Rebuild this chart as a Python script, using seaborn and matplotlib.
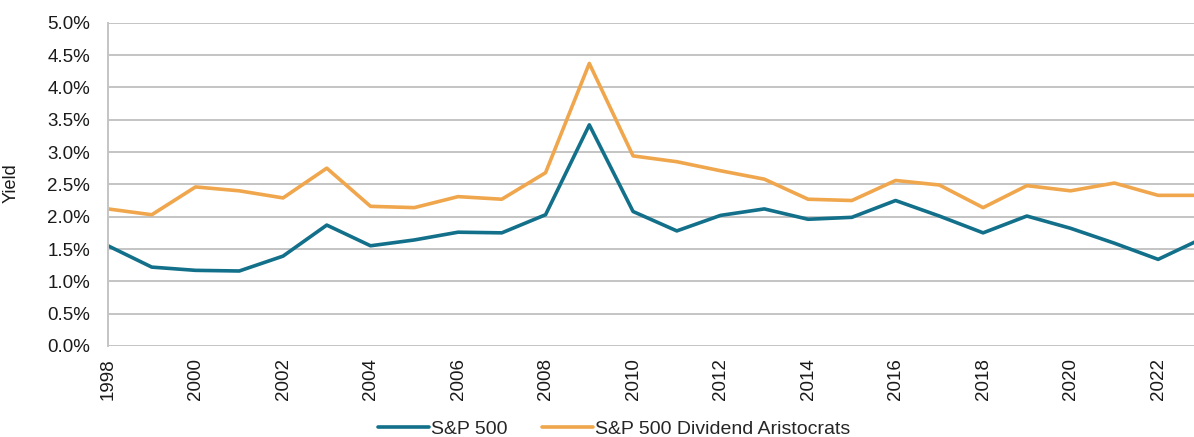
import matplotlib
matplotlib.use("Agg")
import matplotlib.pyplot as plt
import seaborn as sns
import pandas as pd
from matplotlib.ticker import FuncFormatter, MultipleLocator

years = list(range(1998, 2024))
sp500 = [1.55, 1.22, 1.17, 1.16, 1.39, 1.87, 1.55, 1.64, 1.76, 1.75, 2.03, 3.42, 2.08,
         1.78, 2.02, 2.12, 1.96, 1.99, 2.25, 2.01, 1.75, 2.01, 1.82, 1.59, 1.34, 1.66]
aristocrats = [2.12, 2.03, 2.46, 2.40, 2.29, 2.75, 2.16, 2.14, 2.31, 2.27, 2.68, 4.37, 2.94,
               2.85, 2.71, 2.58, 2.27, 2.25, 2.56, 2.49, 2.14, 2.48, 2.40, 2.52, 2.33, 2.33]
series_names = ["S&P 500", "S&P 500 Dividend Aristocrats"]

df = pd.DataFrame({
    "Year": years * 2,
    "Yield": sp500 + aristocrats,
    "Series": [series_names[0]] * len(years) + [series_names[1]] * len(years),
})

sns.set_theme(style="white")
plt.rcParams["font.family"] = ["Liberation Sans", "DejaVu Sans"]

fig = plt.figure(figsize=(11.94, 4.37), dpi=100)
ax = fig.add_axes([108 / 1194, 1 - 346 / 437, 1 - 108 / 1194, (346 - 22.7) / 437])

palette = {series_names[0]: "#13708a", series_names[1]: "#f0a64c"}
sns.lineplot(data=df, x="Year", y="Yield", hue="Series", palette=palette,
             linewidth=2.6, ax=ax, legend=False)

ax.set_xlim(1998, 2022.82)
ax.set_ylim(0, 5.0)
ax.yaxis.set_major_locator(MultipleLocator(0.5))
ax.yaxis.set_major_formatter(FuncFormatter(lambda v, p: f"{v:.1f}%"))
ax.set_xticks(list(range(1998, 2023, 2)))
ax.set_xticklabels([str(y) for y in range(1998, 2023, 2)], rotation=90)
ax.tick_params(axis="both", labelsize=13.5, length=0, colors="#1a1a1a")
ax.tick_params(axis="y", pad=13)
ax.tick_params(axis="x", pad=9)
ax.grid(axis="y", color="#c4c4c4", linewidth=1.4)
ax.set_axisbelow(True)
for s in ["top", "right"]:
    ax.spines[s].set_visible(False)
ax.spines["bottom"].set_visible(False)
ax.spines["left"].set_color("#c4c4c4")
ax.spines["left"].set_linewidth(1.4)
ax.set_xlabel("")
ax.set_ylabel("Yield", fontsize=13, color="#1a1a1a")
ax.yaxis.set_label_coords((20 - 108) / 1086, 0.505)

handles = [plt.Line2D([], [], color=palette[n], linewidth=2.6) for n in series_names]
fig.legend(handles, series_names, loc="center", bbox_to_anchor=(614 / 1194, 1 - 429 / 437),
           ncol=2, frameon=False, fontsize=14, handlelength=2.6, handletextpad=0.1,
           columnspacing=1.8)

fig.savefig("out.png", dpi=100)
